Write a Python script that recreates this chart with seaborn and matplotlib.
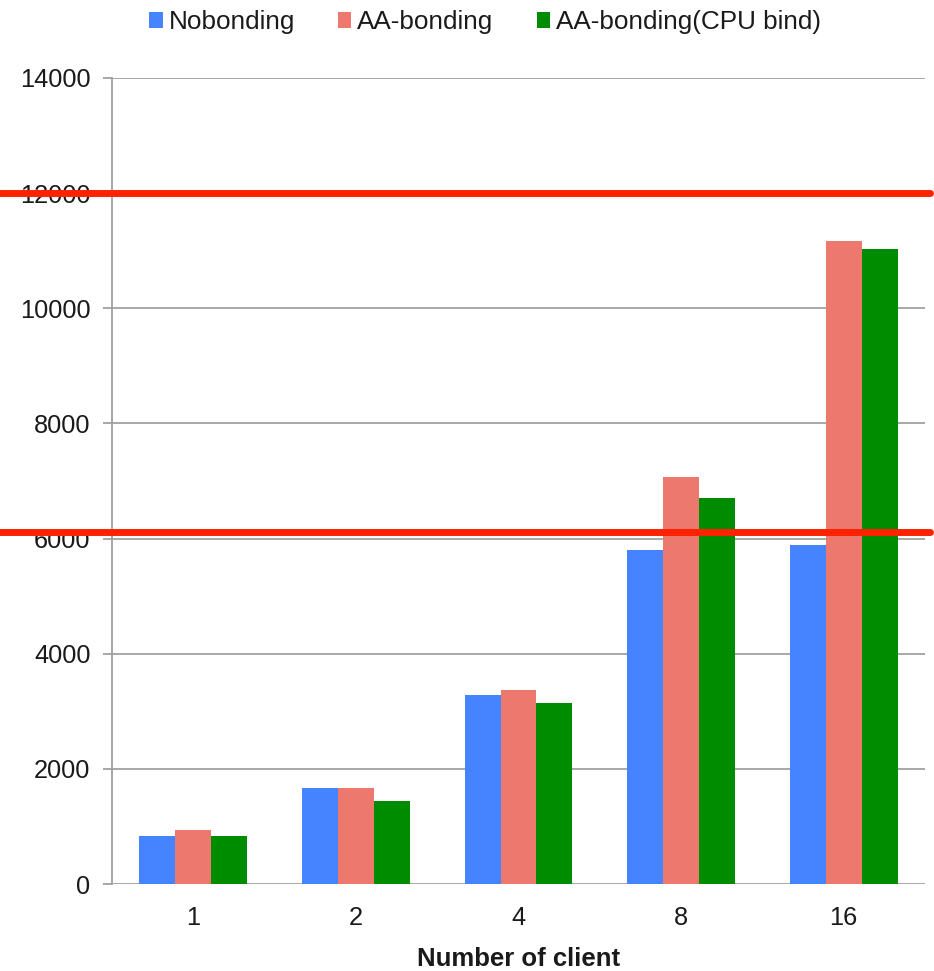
import matplotlib
matplotlib.use("Agg")
import matplotlib.pyplot as plt
from matplotlib.patches import Patch
import seaborn as sns
import pandas as pd

# Throughput per number of clients for each bonding mode
clients = ["1", "2", "4", "8", "16"]
nobonding = [834, 1668, 3278, 5807, 5883]
aa_bonding = [938, 1668, 3365, 7075, 11169]
aa_bonding_cpu = [834, 1436, 3139, 6700, 11036]
series_names = ["Nobonding", "AA-bonding", "AA-bonding(CPU bind)"]
series_colors = ["#4583FF", "#EC786E", "#008C00"]
yticks = [0, 2000, 4000, 6000, 8000, 10000, 12000, 14000]
threshold_lines = [12000, 6110]

rows = []
for name, vals in zip(series_names, [nobonding, aa_bonding, aa_bonding_cpu]):
    for c, v in zip(clients, vals):
        rows.append({"clients": c, "series": name, "value": v})
df = pd.DataFrame(rows)

sns.set_theme(style="white")
plt.rcParams["font.family"] = ["Liberation Sans", "DejaVu Sans"]

W, H = 934, 971
fig = plt.figure(figsize=(W / 100, H / 100), dpi=100)
ax_left, ax_right, ax_top, ax_bottom = 112, 925, 78, 884
ax = fig.add_axes([ax_left / W, 1 - ax_bottom / H,
                   (ax_right - ax_left) / W, (ax_bottom - ax_top) / H])

palette = dict(zip(series_names, series_colors))
sns.barplot(data=df, x="clients", y="value", hue="series", order=clients,
            hue_order=series_names, palette=palette, width=0.664,
            saturation=1, linewidth=0, ax=ax, legend=False, zorder=3)

grid_color = "#a0a0a0"
ax.set_xlim(-0.5, len(clients) - 0.5)
ax.set_ylim(0, 14000)
ax.set_yticks(yticks)
ax.set_yticklabels([str(t) for t in yticks])
for t in yticks:
    ax.axhline(t, color=grid_color, lw=1.3, zorder=1)

for s in ["top", "right", "bottom"]:
    ax.spines[s].set_visible(False)
ax.spines["left"].set_color(grid_color)
ax.spines["left"].set_linewidth(1.3)

ax.tick_params(axis="y", which="major", length=6.5, width=1.3, color=grid_color,
               labelsize=18.3, labelcolor="#1a1a1a", pad=9, left=True)
ax.tick_params(axis="x", length=0, labelsize=18.3, labelcolor="#1a1a1a", pad=16)
ax.set_ylabel("")
ax.set_xlabel("Number of client", fontsize=18.5, fontweight="bold",
              color="#1a1a1a", labelpad=12)

# Red reference lines spanning the full figure width
axw = ax_right - ax_left
for y in threshold_lines:
    ax.axhline(y, xmin=-ax_left / axw, xmax=(930 - ax_left) / axw,
               color="#FF2200", lw=5, clip_on=False, zorder=10)

handles = [Patch(facecolor=c, edgecolor="none", label=n)
           for n, c in zip(series_names, series_colors)]
fig.legend(handles=handles, loc="upper center", bbox_to_anchor=(485 / W, 1 - 5 / H),
           ncol=3, frameon=False, fontsize=18.8, handlelength=0.52, handleheight=0.52,
           handletextpad=0.22, columnspacing=1.65, borderaxespad=0, borderpad=0.2,
           labelcolor="#1a1a1a")

fig.savefig("out.png", dpi=100)
